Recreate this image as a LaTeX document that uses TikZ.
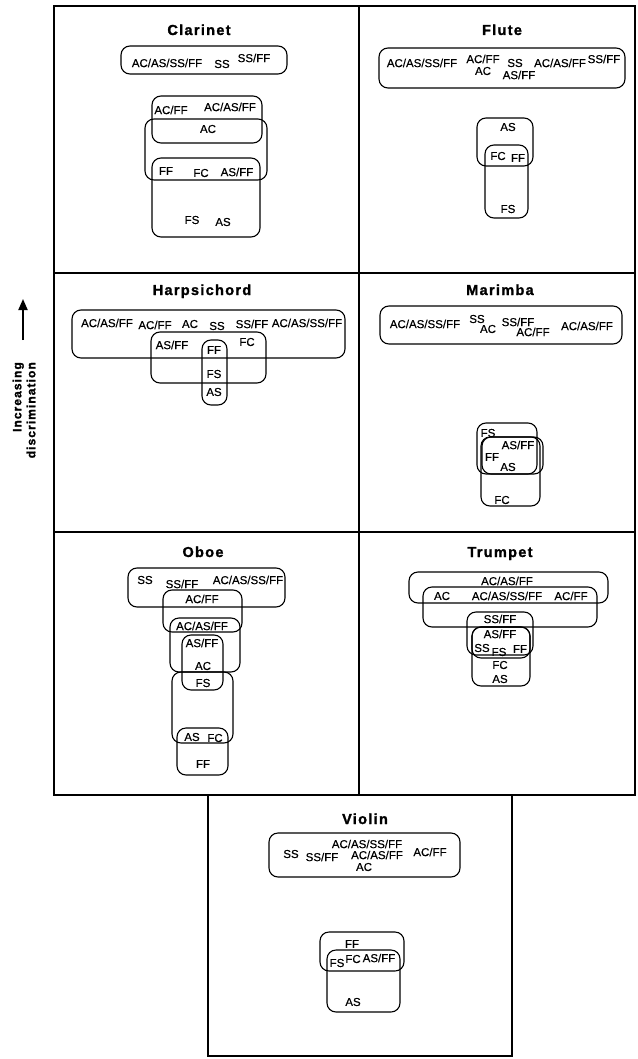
\documentclass[tikz,border=0pt]{standalone}
\usepackage{fontspec}
\setmainfont[FakeBold=0.5]{Liberation Sans}
\newfontfamily\headfont[LetterSpace=9,BoldFeatures={FakeBold=1.5}]{Liberation Sans}
\usepackage{tikz}
\usetikzlibrary{arrows.meta}
\tikzset{
  frame-line/.style={draw,line width=1.3pt},
  set-box/.style={draw,line width=1.1pt,rounded corners=9pt},
  panel-title/.style={anchor=base,inner sep=0pt,
    font=\headfont\bfseries\fontsize{14.5}{16}\selectfont},
  set-label/.style={inner sep=0pt,font=\fontsize{11.5}{12}\selectfont},
  axis-text/.style={rotate=90,anchor=east,align=right,inner sep=0pt,
    font=\headfont\bfseries\fontsize{12}{14}\selectfont},
  axis-arrow/.style={-{Triangle[length=11pt,width=9pt]},line width=2pt},
}
\begin{document}
\begin{tikzpicture}[x=1pt,y=-1pt]
  \useasboundingbox (0,0) rectangle (637,1059);
  % panel frame
  \draw[frame-line] (54,6) rectangle (635,795);
  \draw[frame-line] (359,6) -- (359,795);
  \draw[frame-line] (54,273) -- (635,273);
  \draw[frame-line] (54,532) -- (635,532);
  \draw[frame-line] (208,795) -- (208,1056) -- (512,1056) -- (512,795);
  % axis
  \coordinate (ax-lo) at (23,340);
  \coordinate (ax-hi) at (23,299);
  \draw[axis-arrow] (ax-lo) -- (ax-hi);
  \node[axis-text] (ax-txt) at (24,362) {Increasing\\discrimination};

  % Clarinet
  \node[panel-title] (t-clar) at (199,35) {Clarinet};
  \draw[set-box] (121,46) rectangle (287,74);
  \draw[set-box] (152,96) rectangle (262,143);
  \draw[set-box] (145,119) rectangle (267,180);
  \draw[set-box] (152,158) rectangle (260,237);
  \node[set-label] (cl-a) at (167,63) {AC/AS/SS/FF};
  \node[set-label] (cl-b) at (222,64) {SS};
  \node[set-label] (cl-c) at (254,58) {SS/FF};
  \node[set-label] (cl-d) at (171,110) {AC/FF};
  \node[set-label] (cl-e) at (230,107) {AC/AS/FF};
  \node[set-label] (cl-f) at (208,129) {AC};
  \node[set-label] (cl-g) at (166,171) {FF};
  \node[set-label] (cl-h) at (201,173) {FC};
  \node[set-label] (cl-i) at (237,172) {AS/FF};
  \node[set-label] (cl-j) at (192,220) {FS};
  \node[set-label] (cl-k) at (223,222) {AS};

  % Flute
  \node[panel-title] (t-flut) at (502,35) {Flute};
  \draw[set-box] (379,48) rectangle (625,88);
  \draw[set-box] (477,118) rectangle (533,166);
  \draw[set-box] (485,145) rectangle (528,218);
  \node[set-label] (fl-a) at (422,63) {AC/AS/SS/FF};
  \node[set-label] (fl-b) at (483,59) {AC/FF};
  \node[set-label] (fl-c) at (483,71) {AC};
  \node[set-label] (fl-d) at (515,63) {SS};
  \node[set-label] (fl-e) at (519,75) {AS/FF};
  \node[set-label] (fl-f) at (560,63) {AC/AS/FF};
  \node[set-label] (fl-g) at (604,59) {SS/FF};
  \node[set-label] (fl-h) at (508,127) {AS};
  \node[set-label] (fl-i) at (498,156) {FC};
  \node[set-label] (fl-j) at (518,158) {FF};
  \node[set-label] (fl-k) at (508,209) {FS};

  % Harpsichord
  \node[panel-title] (t-harp) at (202,295) {Harpsichord};
  \draw[set-box] (72,310) rectangle (345,358);
  \draw[set-box] (151,332) rectangle (266,383);
  \draw[set-box] (202,340) rectangle (227,405);
  \node[set-label] (hp-a) at (107,323) {AC/AS/FF};
  \node[set-label] (hp-b) at (155,325) {AC/FF};
  \node[set-label] (hp-c) at (190,324) {AC};
  \node[set-label] (hp-d) at (217,326) {SS};
  \node[set-label] (hp-e) at (252,324) {SS/FF};
  \node[set-label] (hp-f) at (307,323) {AC/AS/SS/FF};
  \node[set-label] (hp-g) at (172,345) {AS/FF};
  \node[set-label] (hp-h) at (247,342) {FC};
  \node[set-label] (hp-i) at (214,350) {FF};
  \node[set-label] (hp-j) at (214,374) {FS};
  \node[set-label] (hp-k) at (214,392) {AS};

  % Marimba
  \node[panel-title] (t-mar) at (500,295) {Marimba};
  \draw[set-box] (380,306) rectangle (622,344);
  \draw[set-box] (477,423) rectangle (537,474);
  \draw[set-box] (482,437) rectangle (543,474);
  \draw[set-box] (481,437) rectangle (540,506);
  \node[set-label] (mr-a) at (425,324) {AC/AS/SS/FF};
  \node[set-label] (mr-b) at (477,319) {SS};
  \node[set-label] (mr-c) at (488,329) {AC};
  \node[set-label] (mr-d) at (518,322) {SS/FF};
  \node[set-label] (mr-e) at (533,332) {AC/FF};
  \node[set-label] (mr-f) at (587,326) {AC/AS/FF};
  \node[set-label] (mr-g) at (488,433) {FS};
  \node[set-label] (mr-h) at (518,445) {AS/FF};
  \node[set-label] (mr-i) at (492,457) {FF};
  \node[set-label] (mr-j) at (508,467) {AS};
  \node[set-label] (mr-k) at (502,500) {FC};

  % Oboe
  \node[panel-title] (t-oboe) at (203,557) {Oboe};
  \draw[set-box] (128,568) rectangle (285,607);
  \draw[set-box] (163,590) rectangle (242,632);
  \draw[set-box] (170,618) rectangle (240,672);
  \draw[set-box] (182,635) rectangle (223,690);
  \draw[set-box] (172,672) rectangle (233,743);
  \draw[set-box] (177,728) rectangle (228,775);
  \node[set-label] (ob-a) at (145,580) {SS};
  \node[set-label] (ob-b) at (182,584) {SS/FF};
  \node[set-label] (ob-c) at (248,580) {AC/AS/SS/FF};
  \node[set-label] (ob-d) at (202,599) {AC/FF};
  \node[set-label] (ob-e) at (202,626) {AC/AS/FF};
  \node[set-label] (ob-f) at (202,643) {AS/FF};
  \node[set-label] (ob-g) at (203,666) {AC};
  \node[set-label] (ob-h) at (203,683) {FS};
  \node[set-label] (ob-i) at (192,737) {AS};
  \node[set-label] (ob-j) at (215,738) {FC};
  \node[set-label] (ob-k) at (203,764) {FF};

  % Trumpet
  \node[panel-title] (t-trum) at (500,557) {Trumpet};
  \draw[set-box] (409,572) rectangle (608,603);
  \draw[set-box] (423,587) rectangle (597,627);
  \draw[set-box] (467,612) rectangle (533,655);
  \draw[set-box] (472,627) rectangle (530,658);
  \draw[set-box] (472,627) rectangle (530,686);
  \node[set-label] (tr-a) at (507,581) {AC/AS/FF};
  \node[set-label] (tr-b) at (442,596) {AC};
  \node[set-label] (tr-c) at (507,596) {AC/AS/SS/FF};
  \node[set-label] (tr-d) at (571,596) {AC/FF};
  \node[set-label] (tr-e) at (500,619) {SS/FF};
  \node[set-label] (tr-f) at (500,634) {AS/FF};
  \node[set-label] (tr-g) at (482,648) {SS};
  \node[set-label] (tr-h) at (499,652) {FS};
  \node[set-label] (tr-i) at (520,649) {FF};
  \node[set-label] (tr-j) at (500,665) {FC};
  \node[set-label] (tr-k) at (500,679) {AS};

  % Violin
  \node[panel-title] (t-viol) at (365,824) {Violin};
  \draw[set-box] (269,833) rectangle (460,877);
  \draw[set-box] (320,932) rectangle (404,971);
  \draw[set-box] (327,950) rectangle (400,1012);
  \node[set-label] (vl-a) at (291,854) {SS};
  \node[set-label] (vl-b) at (322,857) {SS/FF};
  \node[set-label] (vl-c) at (367,844) {AC/AS/SS/FF};
  \node[set-label] (vl-d) at (377,855) {AC/AS/FF};
  \node[set-label] (vl-e) at (364,867) {AC};
  \node[set-label] (vl-f) at (430,852) {AC/FF};
  \node[set-label] (vl-g) at (352,944) {FF};
  \node[set-label] (vl-h) at (337,963) {FS};
  \node[set-label] (vl-i) at (353,959) {FC};
  \node[set-label] (vl-j) at (379,958) {AS/FF};
  \node[set-label] (vl-k) at (353,1002) {AS};
\end{tikzpicture}
\end{document}
